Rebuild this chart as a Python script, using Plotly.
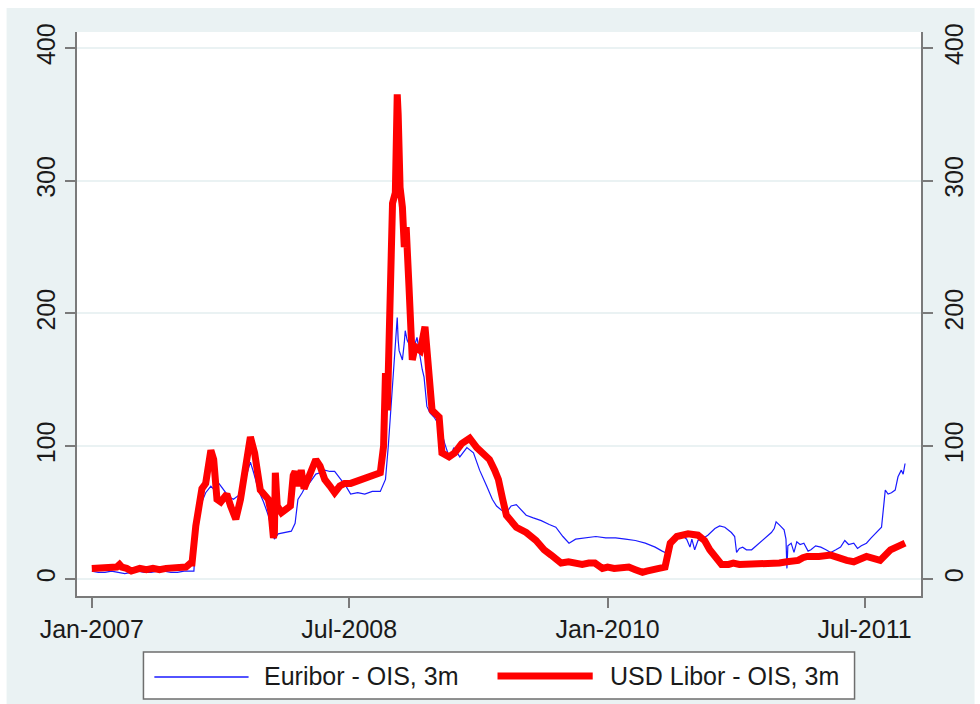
import plotly.graph_objects as go

# ---------------------------------------------------------------------------
# Spreads over OIS, basis points
# ---------------------------------------------------------------------------
usd_dates = [
    "2007-01-01", "2007-01-12", "2007-01-26", "2007-02-09", "2007-02-23", "2007-03-01",
    "2007-03-06", "2007-03-16", "2007-03-26", "2007-04-13", "2007-04-27", "2007-05-11",
    "2007-05-25", "2007-06-08", "2007-06-22", "2007-07-06", "2007-07-20", "2007-07-30",
    "2007-08-02", "2007-08-10", "2007-08-23", "2007-08-31", "2007-09-11", "2007-09-17",
    "2007-09-24", "2007-10-02", "2007-10-15", "2007-10-23", "2007-11-03", "2007-11-13",
    "2007-11-24", "2007-12-04", "2007-12-13", "2007-12-25", "2008-01-11", "2008-01-17",
    "2008-01-22", "2008-01-24", "2008-01-26", "2008-01-30", "2008-02-08", "2008-02-18",
    "2008-02-27", "2008-03-04", "2008-03-08", "2008-03-14", "2008-03-21", "2008-03-27",
    "2008-04-04", "2008-04-13", "2008-04-21", "2008-04-30", "2008-05-10", "2008-05-21",
    "2008-05-31", "2008-06-11", "2008-06-21", "2008-07-04", "2008-07-19", "2008-08-03",
    "2008-08-19", "2008-09-05", "2008-09-12", "2008-09-16", "2008-09-20", "2008-09-26",
    "2008-10-01", "2008-10-07", "2008-10-11", "2008-10-13", "2008-10-17", "2008-10-22",
    "2008-10-26", "2008-10-30", "2008-11-05", "2008-11-12", "2008-11-18", "2008-11-29",
    "2008-12-09", "2008-12-18", "2008-12-24", "2009-01-08", "2009-01-14", "2009-01-29",
    "2009-02-10", "2009-02-25", "2009-03-14", "2009-03-29", "2009-04-12", "2009-04-25",
    "2009-05-06", "2009-05-14", "2009-05-23", "2009-05-31", "2009-06-21", "2009-07-12",
    "2009-08-02", "2009-08-19", "2009-09-03", "2009-09-24", "2009-10-10", "2009-10-25",
    "2009-11-08", "2009-11-22", "2009-12-05", "2009-12-21", "2010-01-01", "2010-01-15",
    "2010-02-01", "2010-02-15", "2010-03-01", "2010-03-08", "2010-03-16", "2010-03-25",
    "2010-04-02", "2010-04-12", "2010-04-20", "2010-05-03", "2010-05-14", "2010-05-28",
    "2010-06-21", "2010-07-12", "2010-07-26", "2010-08-06", "2010-08-17", "2010-08-31",
    "2010-09-15", "2010-09-25", "2010-10-08", "2010-10-20", "2010-11-09", "2010-11-25",
    "2010-12-15", "2011-01-01", "2011-01-17", "2011-02-10", "2011-02-20", "2011-03-01",
    "2011-03-26", "2011-04-20", "2011-05-24", "2011-06-08", "2011-07-05", "2011-07-20",
    "2011-08-03", "2011-08-25", "2011-09-10", "2011-09-25",
]
usd_libor_ois = [
    8, 8, 9, 8, 9, 11,
    9, 8, 6, 8, 7, 8,
    7, 8, 8, 9, 9, 12,
    12, 40, 68, 72, 97, 90,
    60, 58, 64, 55, 45, 60,
    85, 107, 95, 67, 60, 50,
    31, 35, 80, 55, 50, 52,
    55, 78, 81, 70, 82, 68,
    75, 85, 90, 85, 75, 70,
    65, 70, 72, 72, 74, 75,
    77, 80, 100, 155, 127, 200,
    283, 291, 365, 350, 295, 280,
    250, 265, 220, 165, 175, 172,
    190, 155, 127, 122, 95, 92,
    95, 102, 106, 99, 95, 90,
    82, 75, 60, 48, 39, 35,
    29, 22, 18, 12, 13, 12,
    11, 12, 12, 8, 9, 8,
    9, 9, 7, 6, 5, 6,
    7, 8, 8, 9, 27, 32,
    34, 33, 29, 22, 17, 11,
    11, 12, 11, 11, 11, 12,
    12, 12, 13, 14, 16, 17,
    17, 18, 14, 13, 17, 15,
    14, 22, 24, 27,
]

eur_dates = [
    "2007-01-01", "2007-01-15", "2007-01-29", "2007-02-12", "2007-02-26", "2007-03-12",
    "2007-03-26", "2007-04-09", "2007-04-23", "2007-05-07", "2007-05-21", "2007-06-04",
    "2007-06-18", "2007-07-02", "2007-07-16", "2007-07-30", "2007-08-06", "2007-08-10",
    "2007-08-14", "2007-08-23", "2007-08-31", "2007-09-11", "2007-09-21", "2007-09-28",
    "2007-10-08", "2007-10-19", "2007-10-29", "2007-11-09", "2007-11-19", "2007-11-30",
    "2007-12-04", "2007-12-11", "2007-12-21", "2008-01-01", "2008-01-11", "2008-01-17",
    "2008-01-24", "2008-02-01", "2008-02-16", "2008-02-29", "2008-03-08", "2008-03-14",
    "2008-03-23", "2008-03-29", "2008-04-09", "2008-04-21", "2008-04-30", "2008-05-10",
    "2008-05-21", "2008-05-31", "2008-06-13", "2008-06-24", "2008-07-04", "2008-07-19",
    "2008-08-03", "2008-08-19", "2008-09-05", "2008-09-16", "2008-09-22", "2008-09-26",
    "2008-10-01", "2008-10-05", "2008-10-09", "2008-10-11", "2008-10-13", "2008-10-15",
    "2008-10-19", "2008-10-22", "2008-10-26", "2008-10-28", "2008-11-01", "2008-11-05",
    "2008-11-12", "2008-11-16", "2008-11-22", "2008-11-29", "2008-12-03", "2008-12-07",
    "2008-12-13", "2008-12-20", "2008-12-28", "2009-01-10", "2009-01-20", "2009-01-31",
    "2009-02-08", "2009-02-21", "2009-03-08", "2009-03-22", "2009-04-04", "2009-04-19",
    "2009-05-01", "2009-05-10", "2009-05-20", "2009-05-31", "2009-06-10", "2009-06-21",
    "2009-07-02", "2009-07-12", "2009-07-27", "2009-08-13", "2009-08-30", "2009-09-13",
    "2009-09-28", "2009-10-11", "2009-10-25", "2009-11-16", "2009-12-07", "2009-12-28",
    "2010-01-18", "2010-02-08", "2010-03-01", "2010-03-22", "2010-04-12", "2010-04-27",
    "2010-05-03", "2010-05-12", "2010-05-18", "2010-05-28", "2010-06-08", "2010-06-18",
    "2010-06-25", "2010-06-29", "2010-07-05", "2010-07-12", "2010-07-20", "2010-08-02",
    "2010-08-17", "2010-08-27", "2010-09-07", "2010-09-21", "2010-09-28", "2010-10-02",
    "2010-10-08", "2010-10-15", "2010-10-23", "2010-11-03", "2010-11-13", "2010-11-24",
    "2010-12-04", "2010-12-15", "2010-12-21", "2010-12-25", "2011-01-03", "2011-01-11",
    "2011-01-15", "2011-01-17", "2011-01-19", "2011-01-26", "2011-02-01", "2011-02-07",
    "2011-02-14", "2011-02-22", "2011-03-03", "2011-03-09", "2011-03-19", "2011-03-30",
    "2011-04-10", "2011-04-20", "2011-05-01", "2011-05-11", "2011-05-20", "2011-05-28",
    "2011-06-08", "2011-06-16", "2011-06-24", "2011-07-05", "2011-07-15", "2011-07-26",
    "2011-08-06", "2011-08-12", "2011-08-14", "2011-08-20", "2011-08-27", "2011-09-04",
    "2011-09-10", "2011-09-17", "2011-09-21", "2011-09-25",
]
euribor_ois = [
    6, 5, 5, 6, 5, 4,
    5, 6, 5, 5, 6, 6,
    5, 5, 6, 6, 6, 35,
    52, 58, 65, 70, 66, 72,
    67, 62, 60, 63, 70, 82,
    88, 80, 67, 58, 48, 39,
    30, 34, 35, 36, 42, 60,
    65, 69, 73, 79, 80, 82,
    81, 81, 75, 70, 64, 65,
    64, 66, 66, 75, 100, 120,
    140, 165, 185, 197, 180, 172,
    168, 165, 178, 187, 180, 177,
    176, 175, 182, 165, 158, 152,
    130, 125, 122, 115, 102, 90,
    99, 92, 99, 95, 82, 70,
    60, 55, 52, 50, 55, 56,
    52, 48, 46, 44, 41, 39,
    32, 27, 30, 31, 32, 31,
    31, 30, 29, 27, 24, 21,
    20, 26, 29, 32, 33, 30,
    24, 30, 22, 29, 30, 33,
    38, 40, 39, 35, 32, 20,
    23, 24, 22, 22, 25, 29,
    32, 35, 38, 43, 40, 37,
    30, 8, 25, 27, 20, 28,
    26, 27, 21, 22, 25, 24,
    22, 20, 22, 24, 29, 26,
    27, 23, 25, 27, 31, 35,
    39, 60, 67, 64, 65, 67,
    77, 82, 79, 87,
]

y_ticks = [0, 100, 200, 300, 400]
x_tick_dates = ["2007-01-01", "2008-07-01", "2010-01-01", "2011-07-01"]
x_tick_labels = ["Jan-2007", "Jul-2008", "Jan-2010", "Jul-2011"]

# ---------------------------------------------------------------------------
# Page geometry (pixels) and conversion to paper coordinates
# ---------------------------------------------------------------------------
W, H = 980, 704
PL, PR, PT, PB = 77, 928, 32, 596          # plot area edges


def px(x):
    return (x - PL) / (PR - PL)


def py(y):
    return (PB - y) / (PB - PT)


BG = "#eaf2f3"
AXIS = "#7a7a7a"
TXT = "#1a1a1a"
FONT = "Liberation Sans, Arial, sans-serif"

fig = go.Figure()
fig.add_trace(go.Scatter(
    x=eur_dates, y=euribor_ois, mode="lines", name="Euribor - OIS, 3m",
    line=dict(color="#1a1aff", width=1.2), showlegend=False,
))
fig.add_trace(go.Scatter(
    x=usd_dates, y=usd_libor_ois, mode="lines", name="USD Libor - OIS, 3m",
    line=dict(color="#ff0000", width=7), showlegend=False,
))
# invisible trace carrying the right-hand axis
fig.add_trace(go.Scatter(
    x=[usd_dates[0]], y=[usd_libor_ois[0]], yaxis="y2", mode="lines",
    line=dict(width=0), hoverinfo="skip", showlegend=False,
))

y_range = [-12.8, 412]
yaxis_common = dict(
    range=y_range, tickvals=y_ticks, ticks="outside", ticklen=10, tickwidth=1.5,
    tickcolor=AXIS, showline=True, linecolor=AXIS, linewidth=1.5,
    tickangle=-90, zeroline=False,
    tickfont=dict(family=FONT, size=25, color=TXT),
)

fig.update_layout(
    width=W, height=H,
    margin=dict(l=PL, r=W - PR, t=PT, b=H - PB, pad=0),
    paper_bgcolor="white", plot_bgcolor="white",
    xaxis=dict(
        range=["2006-11-30 14:00", "2011-10-28 21:00"],
        tickvals=x_tick_dates, ticktext=x_tick_labels,
        ticks="outside", ticklen=10, tickwidth=1.5, tickcolor=AXIS,
        showline=True, linecolor=AXIS, linewidth=1.5,
        showgrid=False, zeroline=False,
        tickfont=dict(family=FONT, size=25, color=TXT),
    ),
    yaxis=dict(showgrid=True, gridcolor=BG, gridwidth=1.5, side="left", **yaxis_common),
    yaxis2=dict(overlaying="y", side="right", showgrid=False, **yaxis_common),
    showlegend=False,
)

shapes = [
    # outer background panel
    dict(type="rect", xref="paper", yref="paper", layer="below",
         x0=px(6), x1=px(W + 2), y0=py(H + 2), y1=py(8),
         fillcolor=BG, line=dict(width=0)),
    # white plot region
    dict(type="rect", xref="paper", yref="paper", layer="below",
         x0=0, x1=1, y0=0, y1=1, fillcolor="white", line=dict(width=0)),
    # legend box
    dict(type="rect", xref="paper", yref="paper", layer="above",
         x0=px(144), x1=px(861), y0=py(699), y1=py(652),
         fillcolor="white", line=dict(color="#6e6e6e", width=1.5)),
    # legend samples
    dict(type="line", xref="paper", yref="paper", layer="above",
         x0=px(155), x1=px(250), y0=py(677), y1=py(677),
         line=dict(color="#1a1aff", width=1.5)),
    dict(type="line", xref="paper", yref="paper", layer="above",
         x0=px(501), x1=px(597), y0=py(676), y1=py(676),
         line=dict(color="#ff0000", width=7)),
]

annotations = [
    dict(text="Euribor - OIS, 3m", xref="paper", yref="paper",
         x=px(264), y=py(676), xanchor="left", yanchor="middle", showarrow=False,
         font=dict(family=FONT, size=25, color=TXT)),
    dict(text="USD Libor - OIS, 3m", xref="paper", yref="paper",
         x=px(612), y=py(676), xanchor="left", yanchor="middle", showarrow=False,
         font=dict(family=FONT, size=25, color=TXT)),
]

fig.update_layout(shapes=shapes, annotations=annotations)
fig.write_html("out.html")
